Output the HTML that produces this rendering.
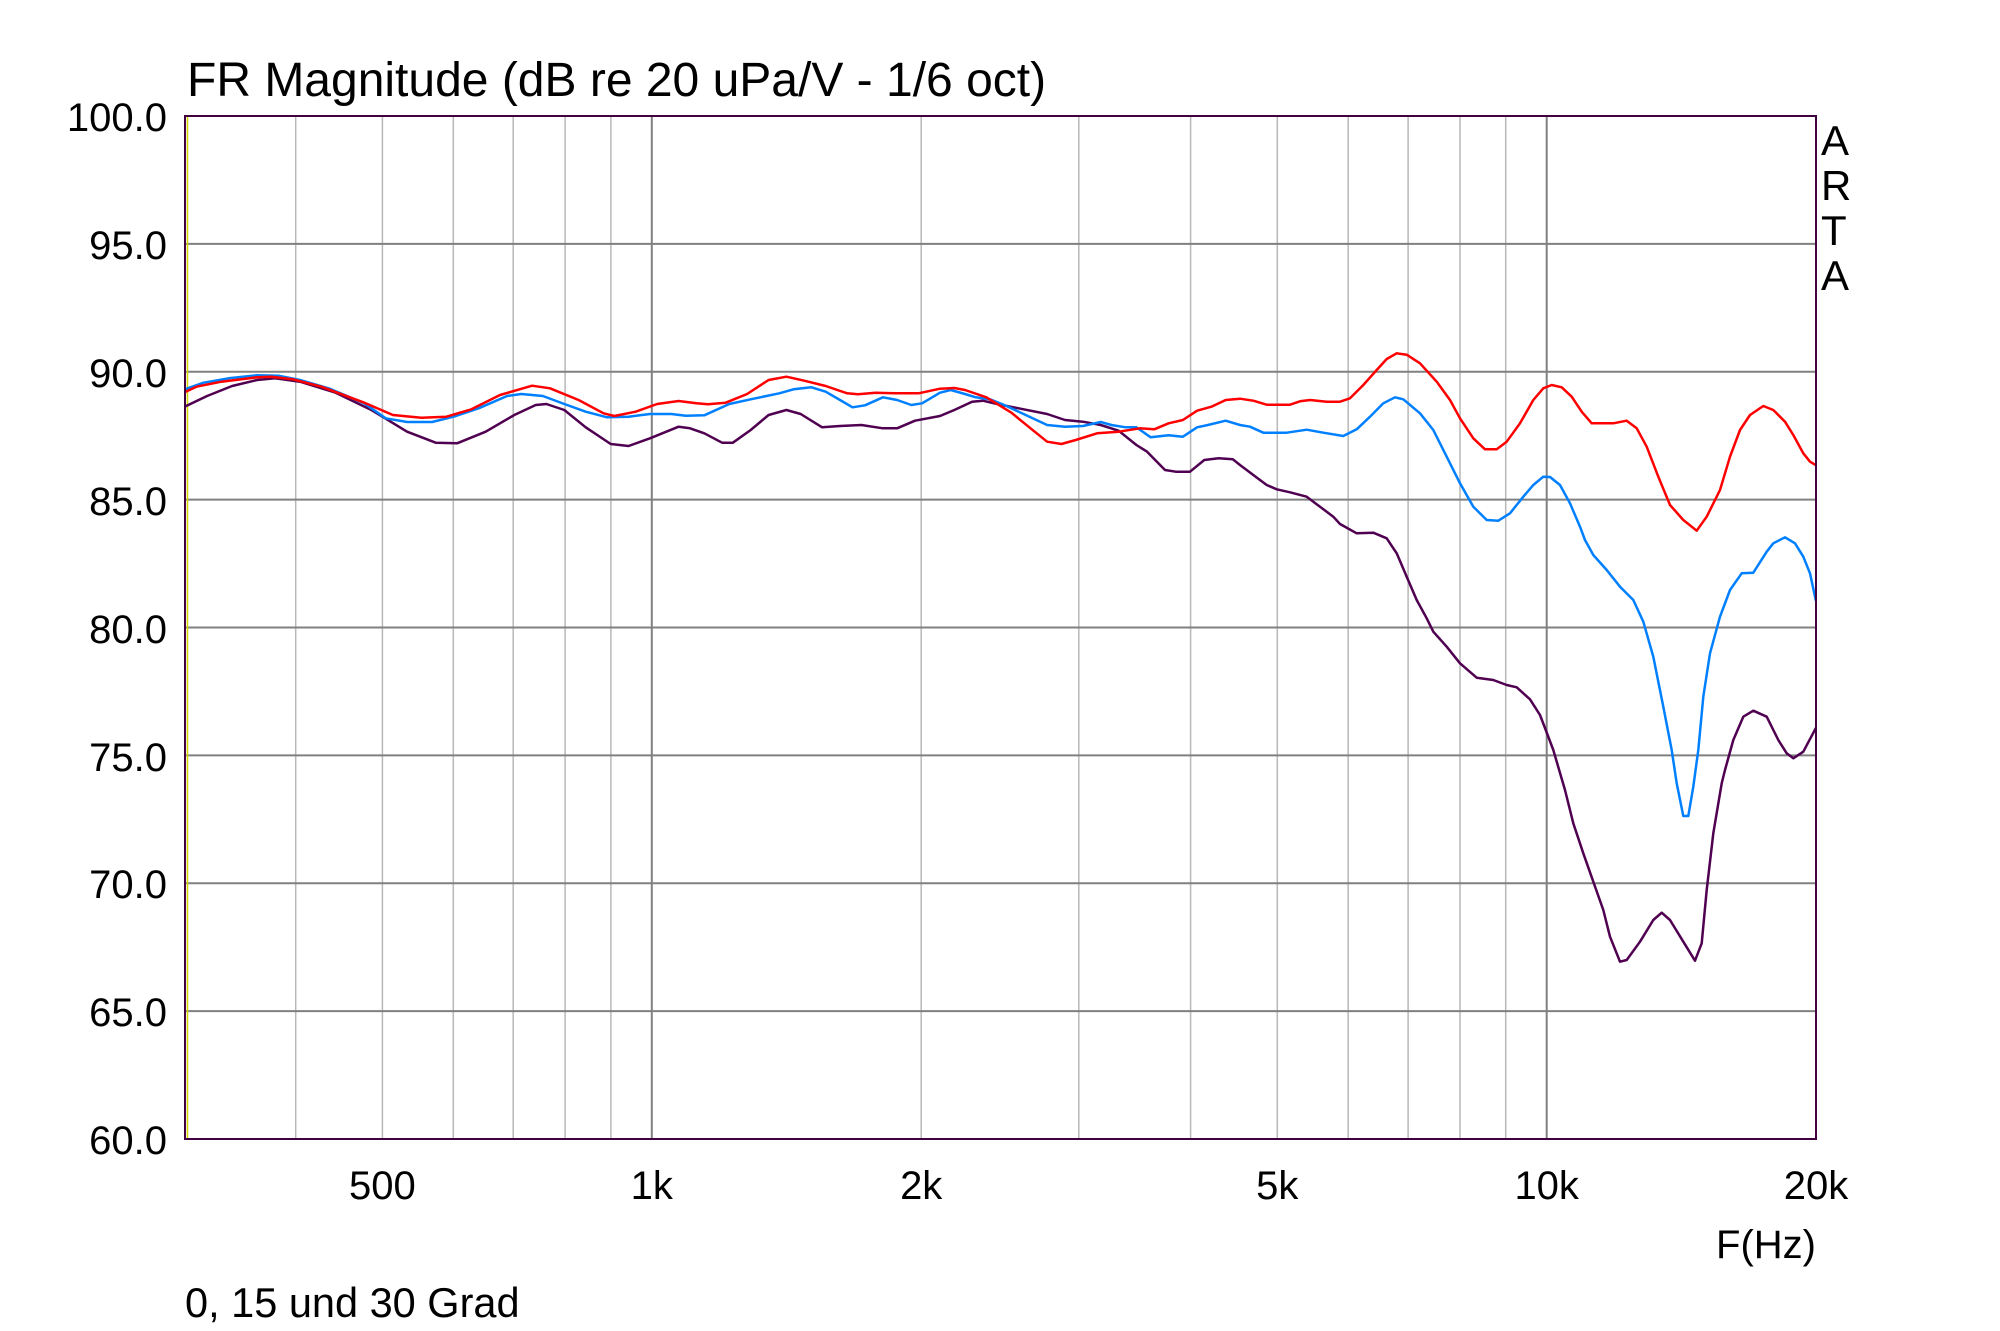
<!DOCTYPE html>
<html><head><meta charset="utf-8"><style>
html,body{margin:0;padding:0;background:#fff;}
svg{display:block;}
text{font-family:"Liberation Sans",Arial,sans-serif;fill:#000;}
</style></head><body>
<svg width="2000" height="1331" viewBox="0 0 2000 1331" xmlns="http://www.w3.org/2000/svg">
<rect x="0" y="0" width="2000" height="1331" fill="#fff"/>
<defs><clipPath id="pc"><rect x="185" y="116" width="1631" height="1023"/></clipPath></defs>
<g stroke="#b8b8b8" stroke-width="1.5">
<line x1="295.7" y1="116" x2="295.7" y2="1139"/>
<line x1="382.4" y1="116" x2="382.4" y2="1139"/>
<line x1="453.3" y1="116" x2="453.3" y2="1139"/>
<line x1="513.2" y1="116" x2="513.2" y2="1139"/>
<line x1="565.1" y1="116" x2="565.1" y2="1139"/>
<line x1="610.9" y1="116" x2="610.9" y2="1139"/>
<line x1="921.2" y1="116" x2="921.2" y2="1139"/>
<line x1="1078.8" y1="116" x2="1078.8" y2="1139"/>
<line x1="1190.6" y1="116" x2="1190.6" y2="1139"/>
<line x1="1277.3" y1="116" x2="1277.3" y2="1139"/>
<line x1="1348.2" y1="116" x2="1348.2" y2="1139"/>
<line x1="1408.1" y1="116" x2="1408.1" y2="1139"/>
<line x1="1460" y1="116" x2="1460" y2="1139"/>
<line x1="1505.7" y1="116" x2="1505.7" y2="1139"/>
</g>
<g stroke="#808080" stroke-width="2">
<line x1="651.8" y1="116" x2="651.8" y2="1139"/>
<line x1="1546.7" y1="116" x2="1546.7" y2="1139"/>
<line x1="185" y1="243.9" x2="1816" y2="243.9"/>
<line x1="185" y1="371.75" x2="1816" y2="371.75"/>
<line x1="185" y1="499.6" x2="1816" y2="499.6"/>
<line x1="185" y1="627.5" x2="1816" y2="627.5"/>
<line x1="185" y1="755.4" x2="1816" y2="755.4"/>
<line x1="185" y1="883.3" x2="1816" y2="883.3"/>
<line x1="185" y1="1011.1" x2="1816" y2="1011.1"/>
</g>
<line x1="187.5" y1="117" x2="187.5" y2="1138" stroke="#d4d400" stroke-width="1.5"/>
<g clip-path="url(#pc)" fill="none" stroke-width="2.5" stroke-linejoin="round" stroke-linecap="round">
<polyline stroke="#500050" points="184.6,406.7 207.1,396 232.1,386 257.1,380 275,378.3 300,381.7 335.7,392.7 371.4,410 407.1,431.7 435.7,442.7 457.1,443.3 485.7,431.7 514.3,415 535.7,405 546.4,404 564.3,410 585.7,427.3 610.7,444 628.6,446 650,438.3 678.6,426.7 690,428.3 704.3,433.3 722.1,442.7 732.9,442.7 750.7,430 768.6,415 786.4,410 800.7,414 822.1,427.3 840,426 861.4,425 882.9,428.3 897.1,428.3 915,420.7 940,416 954.3,410 972.1,401.7 982.9,400.7 997.1,404 1018.6,408.3 1047.1,414 1065,420 1082.9,421.7 1100.7,425 1118.6,430.7 1136.4,445 1147.1,451.7 1165,470 1175.7,471.7 1190,471.7 1204.3,460 1218.6,458.3 1232.9,459.3 1240,465 1253.3,475 1266.7,485 1276.7,489.3 1290,492.3 1306.7,496.7 1320,506.7 1333.3,516.7 1340,524 1356.7,533.3 1373.3,532.7 1386.7,538.3 1396.7,553.3 1406.7,576.7 1416.7,600 1426.7,618.3 1433.3,631.7 1446.7,646.7 1460,663.3 1476.7,677.7 1493.3,680 1506.7,685 1516.7,687.3 1530,699.3 1540,715 1548.3,736.7 1553.3,750 1565,790 1573.3,823.3 1583.3,853.3 1593.3,881.7 1603.3,910 1610,936.7 1620,961.7 1626.7,960 1640,941.7 1653.3,920 1661.7,912.7 1670,920 1683.3,941.7 1695,960.7 1701.7,943.3 1706.7,890 1713.3,833.3 1721.7,783.3 1725,770 1733.3,740 1743.3,716.7 1753.3,710.7 1766.7,716.7 1778.3,740 1786.7,753.3 1793.3,758.3 1803.3,751.7 1815.7,728.3"/>
<polyline stroke="#0080ff" points="184.6,389.3 203.6,382.7 228.6,378.3 257.1,375.3 278.6,375.7 300,380 328.6,388.3 364.3,403.3 385.7,418.3 407.1,422 432.1,422 453.6,416.7 478.6,408.3 507.1,396 521.4,394 542.9,396 564.3,404 585.7,411.7 607.1,417.3 628.6,416.7 650,414 671.4,414 685.7,415.7 704.3,415.3 729.3,404 750.7,399.3 779.3,393.3 793.6,389.3 811.4,387.3 825.7,391.7 840,400 852.5,407.3 865,405.3 882.9,397.3 897.1,400 911.4,405 922.1,403.3 940,392.7 950.7,390 965,394 975.7,397.3 990,399.3 1004.3,405 1025.7,415 1047.1,425 1065,426.7 1082.9,426 1100.7,422 1111.4,425 1125.7,427.3 1136.4,427.3 1150.7,437.3 1168.6,435.3 1182.9,436.7 1197.1,427.3 1207.9,425 1225.7,420.7 1240,425 1250,426.7 1263.3,432.7 1286.7,432.7 1306.7,429.7 1323.3,432.7 1343.3,436 1356.7,429.3 1370,416.7 1383.3,403.3 1395,397.3 1403.3,399.3 1420,413.3 1433.3,430 1446.7,456.7 1460,483.3 1473.3,506.7 1486.7,520 1498.3,520.7 1510,513.3 1523.3,496.7 1533.3,485 1543.3,476.7 1550,477 1560,485 1570,503.3 1580,526.7 1585,540 1593.3,555 1606.7,570 1620,586.7 1633.3,600 1643.3,621.7 1653.3,656.7 1663.3,706.7 1671.7,750 1676.7,783.3 1683.3,816 1688.3,816 1693.3,786.7 1698.3,750 1703.3,696.7 1710,653.3 1720,616.7 1730,590 1741.7,573.3 1753.3,572.7 1766.7,551.7 1773.3,543.3 1785,537.3 1795,543.3 1803.3,556.7 1810,573.3 1815.7,600"/>
<polyline stroke="#ff0000" points="184.6,392.3 196.4,386.7 221.4,381.7 257.1,377.3 271.4,376.7 292.9,379.3 321.4,386.7 364.3,402.7 392.9,415 421.4,417.7 446.4,416.7 471.4,409.3 500,395 532.1,385.7 550,388.3 578.6,400 603.6,413.3 614.3,416 635.7,411.7 657.1,404 678.6,401 696.4,403.3 707.9,404.3 725.7,402.7 747.1,394 768.6,380 786.4,376.7 804.3,380.7 825.7,386 847.1,393.3 857.9,394.3 875.7,392.7 897.1,393.3 918.6,393.3 940,388.7 954.3,388 965,390 986.4,397.3 1011.4,412.7 1029.3,427.3 1047.1,441.7 1061.4,444 1075.7,440 1097.1,433.3 1118.6,431.7 1140,428.3 1154.3,429.3 1168.6,423.3 1182.9,420 1197.1,410.7 1211.4,406.7 1225.7,400 1240,398.7 1253.3,400.7 1266.7,404.7 1290,404.7 1300,401.3 1310,400 1326.7,401.7 1340,401.7 1350,398.3 1363.3,385 1376.7,370 1386.7,359 1396.7,353.3 1406.7,354.7 1420,363.3 1436.7,381.7 1450,400 1460,418.3 1473.3,438.3 1485,449.3 1496.7,449.3 1506.7,441.7 1520,423.3 1533.3,400 1543.3,388.3 1551.7,385 1561.7,387.3 1571.7,396.7 1581.7,411.7 1591.7,423.3 1613.3,423.3 1626.7,420.7 1636.7,428.3 1646.7,446.7 1658.3,476.7 1670,505 1683.3,520 1696.7,530.7 1706.7,516.7 1720,490 1730,456.7 1740,430 1750,415 1763.3,406 1773.3,410 1785,421.7 1793.3,435 1803.3,453.3 1810,461.7 1815.7,465"/>
</g>
<rect x="185" y="116" width="1631" height="1023" fill="none" stroke="#400040" stroke-width="2"/>
<text x="187" y="96" font-size="48">FR Magnitude (dB re 20 uPa/V - 1/6 oct)</text>
<g font-size="40" text-anchor="end">
<text x="167" y="131">100.0</text>
<text x="167" y="259">95.0</text>
<text x="167" y="387">90.0</text>
<text x="167" y="515">85.0</text>
<text x="167" y="643">80.0</text>
<text x="167" y="771">75.0</text>
<text x="167" y="898">70.0</text>
<text x="167" y="1026">65.0</text>
<text x="167" y="1154">60.0</text>
</g>
<g font-size="40" text-anchor="middle">
<text x="382.4" y="1199">500</text>
<text x="651.8" y="1199">1k</text>
<text x="921.2" y="1199">2k</text>
<text x="1277.3" y="1199">5k</text>
<text x="1546.7" y="1199">10k</text>
<text x="1816" y="1199">20k</text>
</g>
<text x="1816" y="1258" font-size="40" text-anchor="end">F(Hz)</text>
<text x="185" y="1317" font-size="41.5">0, 15 und 30 Grad</text>
<g font-size="42">
<text x="1821" y="155">A</text>
<text x="1821" y="200">R</text>
<text x="1821" y="245">T</text>
<text x="1821" y="290">A</text>
</g>
</svg>
</body></html>
